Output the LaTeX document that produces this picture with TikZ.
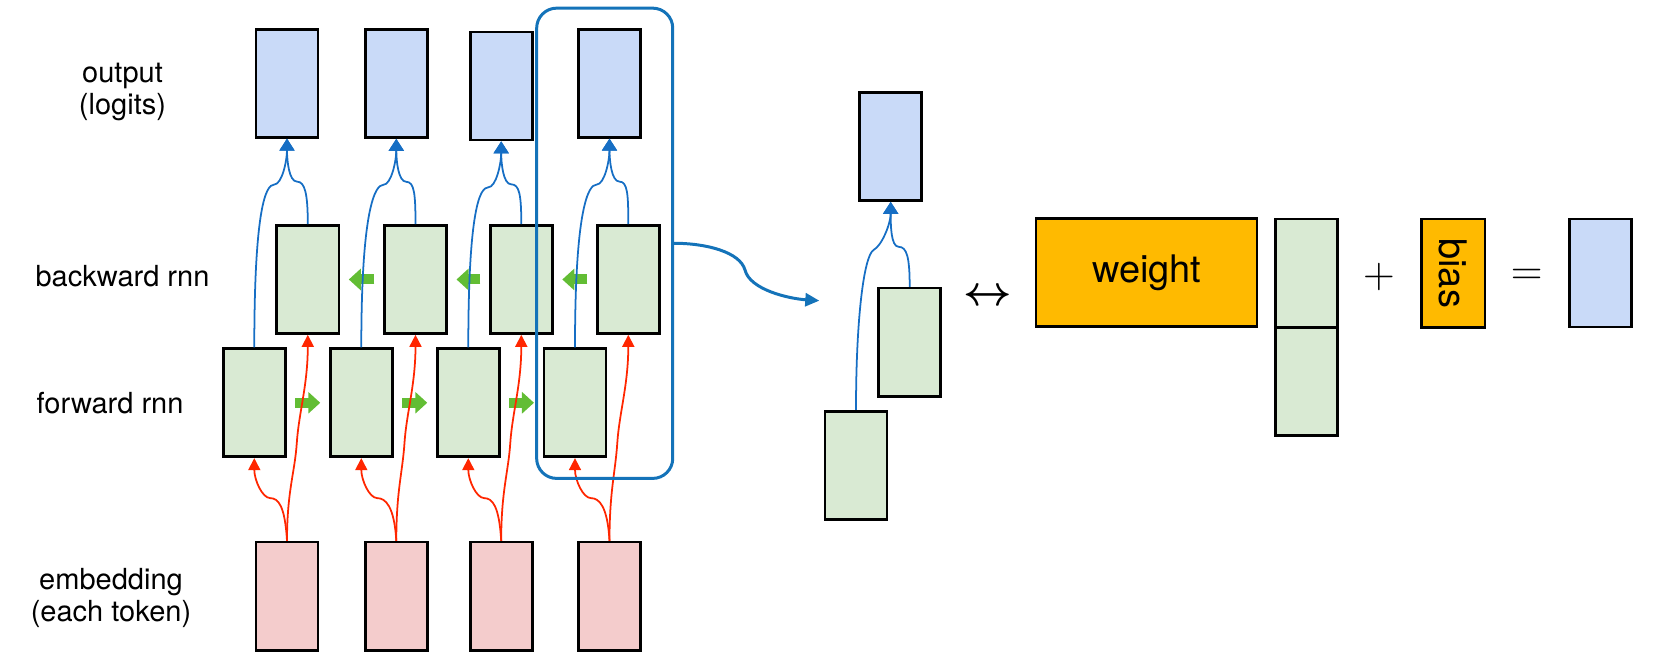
\documentclass[tikz,border=0pt]{standalone}
\usepackage{fontspec}
\setmainfont{TeX Gyre Heros}
\usepackage{amsmath}
\usepackage{tikz}
\usetikzlibrary{arrows.meta, calc}
\definecolor{outblue}{RGB}{201,218,248}
\definecolor{rnngreen}{RGB}{217,234,211}
\definecolor{embpink}{RGB}{244,204,204}
\definecolor{wgtorange}{RGB}{255,186,0}
\definecolor{linkblue}{RGB}{22,110,196}
\definecolor{linkred}{RGB}{255,38,0}
\definecolor{stepgreen}{RGB}{98,189,52}
\definecolor{framblue}{RGB}{20,115,185}

\begin{document}
\begin{tikzpicture}[x=0.01cm, y=-0.01cm,
  vec/.style={draw=black, line width=0.75pt, inner sep=0pt, minimum width=0.62cm, minimum height=1.08cm},
  lbl/.style={font=\fontsize{8.25}{9.1}\selectfont, align=center},
  bigtxt/.style={font=\fontsize{10.8}{13}\selectfont},
  optxt/.style={font=\fontsize{12.3}{15}\selectfont},
  blk/.style={linkblue, line width=0.5pt, -{Triangle[width=0.15cm,length=0.12cm]}},
  rd/.style={linkred, line width=0.5pt, -{Triangle[width=0.12cm,length=0.12cm]}},
  fwdarr/.style={stepgreen, line width=0.1cm, -{Triangle[width=0.21cm,length=0.12cm]}, shorten <=0.41cm, shorten >=0.41cm}]
\useasboundingbox (0,0) rectangle (1653,668);

% row labels
\node[lbl] (lout) at (122.5,92) {output\\(logits)};
\node[lbl] (lbw) at (122.5,276) {backward rnn};
\node[lbl] (lfw) at (110,403) {forward rnn};
\node[lbl] (lemb) at (111,598) {embedding\\(each token)};

% unrolled network
\foreach \i/\xo/\yo/\xb/\xf in {1/287/83.3/307.8/254.3, 2/396.3/83.5/415.5/361.3, 3/501.2/86/521.3/468.3, 4/609.5/83.3/628.3/575}{
  \node[vec, fill=outblue] (out\i) at (\xo,\yo) {};
  \node[vec, fill=rnngreen] (bw\i) at (\xb,279.5) {};
  \node[vec, fill=rnngreen] (fw\i) at (\xf,402.8) {};
  \node[vec, fill=embpink] (emb\i) at (\xo,596.2) {};
}
\foreach \i/\j in {1/2,2/3,3/4}{
  \draw[fwdarr] (fw\i.center) -- (fw\j.center);
  \draw[fwdarr] (bw\j.center) -- (bw\i.center);
}
\foreach \i in {1,...,4}{
  \draw[blk] (fw\i.north) .. controls +(0,-140) and +(-8,0) .. ($(out\i.south)+(-13,46)$) .. controls +(8,0) and +(0,22) .. (out\i.south);
  \draw[blk] (bw\i.north) .. controls +(0,-30) and +(8,0) .. ($(out\i.south)+(10,43)$) .. controls +(-8,0) and +(0,22) .. (out\i.south);
  \draw[rd] (emb\i.north) .. controls +(-2,-35) and +(8,0) .. ($(fw\i.south)+(16,40)$) .. controls +(-8,0) and +(0,22) .. (fw\i.south);
  \draw[rd] (emb\i.north) .. controls +(0,-50) and +(-2,30) .. ($(bw\i.south)+(-11,108)$) .. controls +(2,-30) and +(0,50) .. (bw\i.south);
}
\node[draw=framblue, line width=0.85pt, rounded corners=0.2cm, minimum width=1.36cm, minimum height=4.7cm, inner sep=0pt] (frame) at (604.7,243.3) {};

% one time step
\node[vec, fill=outblue] (rout) at (890.7,146.5) {};
\node[vec, fill=rnngreen] (rbw) at (909.7,342.2) {};
\node[vec, fill=rnngreen] (rfw) at (856,465.3) {};
\draw[blk] (rfw.north) .. controls +(0,-90) and +(-10,6) .. ($(rout.south)+(-17,48)$) .. controls +(8,-4) and +(0,22) .. (rout.south);
\draw[blk] (rbw.north) .. controls +(0,-30) and +(8,0) .. ($(rout.south)+(8,45)$) .. controls +(-8,0) and +(0,22) .. (rout.south);
\coordinate (zoomtip) at (819.3,300.7);
\draw[framblue, line width=0.85pt, -{Triangle[width=0.13cm,length=0.14cm]}] (frame.east) .. controls +(32,0) and +(-5,-18) .. (745,270) .. controls +(5,20) and +(-30,-2) .. (zoomtip);

% linear layer
\node[optxt] (lr) at (987.3,297.3) {$\boldsymbol{\leftrightarrow}$};
\node[draw=black, line width=0.6pt, fill=wgtorange, inner sep=0pt, minimum width=2.21cm, minimum height=1.08cm, bigtxt] (weight) at (1146.7,272.5) {weight};
\node[vec, fill=rnngreen] (vtop) at (1306.2,273) {};
\node[vec, fill=rnngreen] (vbot) at (1306.2,381.3) {};
\node[optxt] (plus) at (1379,277) {$+$};
\node[vec, fill=wgtorange, bigtxt, rotate=-90, minimum width=1.08cm, minimum height=0.63cm] (bias) at (1453.3,273.2) {bias};
\node[optxt] (equals) at (1526.7,277.3) {$=$};
\node[vec, fill=outblue] (result) at (1600.5,273) {};
\end{tikzpicture}
\end{document}
